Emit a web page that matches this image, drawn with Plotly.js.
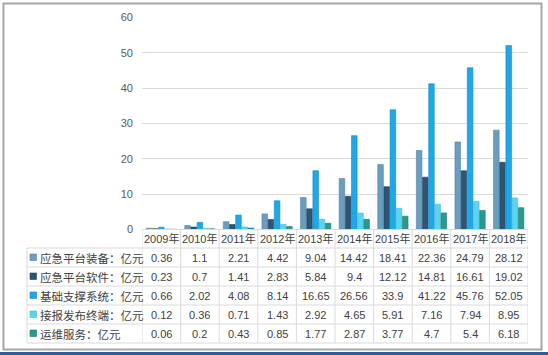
<!DOCTYPE html>
<html>
<head>
<meta charset="utf-8">
<script src="https://cdn.plot.ly/plotly-3.0.1.min.js"></script>
<style>
html,body{margin:0;padding:0;background:#fff;}
#chart{width:548px;height:355px;}
</style>
</head>
<body>
<div id="chart"></div>
<script>
const years = ["2009年","2010年","2011年","2012年","2013年","2014年","2015年","2016年","2017年","2018年"];
const seriesNames = ["应急平台装备：亿元","应急平台软件：亿元","基础支撑系统：亿元","接报发布终端：亿元","运维服务：亿元"];
const equipment = [0.36,1.1,2.21,4.42,9.04,14.42,18.41,22.36,24.79,28.12];
const software  = [0.23,0.7,1.41,2.83,5.84,9.4,12.12,14.81,16.61,19.02];
const infra     = [0.66,2.02,4.08,8.14,16.65,26.56,33.9,41.22,45.76,52.05];
const terminals = [0.12,0.36,0.71,1.43,2.92,4.65,5.91,7.16,7.94,8.95];
const maintenance = [0.06,0.2,0.43,0.85,1.77,2.87,3.77,4.7,5.4,6.18];
const seriesValues = [equipment, software, infra, terminals, maintenance];
const colors = ["#6a9ec0","#2d5575","#1ea8e8","#5cd4f0","#2a9a8c"];
const lineColors = ["#4f82a3","#1f3f5a","#1288c4","#3fb8d6","#1d7b70"];

const W = 548, H = 355;
const px = v => v / W;
const py = v => 1 - v / H;

const traces = seriesValues.map((vals, i) => ({
  type: "bar",
  x: years,
  y: vals,
  name: seriesNames[i],
  marker: {color: colors[i], line: {color: lineColors[i], width: 0.6}},
  hoverinfo: "skip"
}));

const gridCol = "#d9d9d9";
const textCol = "#404040";
const shapes = [];
const annotations = [];

// table geometry (pixels)
const tabLeft = 142, tabRight = 528, legLeft = 27;
const headTop = 229.5, headBot = 248;
const rowH = 19;
const rowTops = [248, 267, 286, 305, 324];
const tabBot = 343;

// horizontal lines
shapes.push({type:"line", xref:"paper", yref:"paper", x0:px(tabLeft), x1:px(tabRight), y0:py(headTop), y1:py(headTop), line:{color:gridCol,width:1}});
[headBot, 267, 286, 305, 324, tabBot].forEach(y => {
  shapes.push({type:"line", xref:"paper", yref:"paper", x0:px(legLeft), x1:px(tabRight), y0:py(y), y1:py(y), line:{color:gridCol,width:1}});
});
// vertical lines
shapes.push({type:"line", xref:"paper", yref:"paper", x0:px(legLeft), x1:px(legLeft), y0:py(headBot), y1:py(tabBot), line:{color:gridCol,width:1}});
for (let i = 0; i <= years.length; i++) {
  shapes.push({type:"line", xref:"x", yref:"paper", x0:i-0.5, x1:i-0.5, y0:py(headTop), y1:py(tabBot), line:{color:gridCol,width:1}});
}
// outer frame
shapes.push({type:"rect", xref:"paper", yref:"paper", x0:px(3.5), x1:px(541.5), y0:py(3.5), y1:py(349.5), line:{color:"#a6a6a6",width:2}});
// bottom blue band
shapes.push({type:"rect", xref:"paper", yref:"paper", x0:0, x1:1, y0:0, y1:py(352), fillcolor:"#2f5b9a", line:{width:0}});

const numFont = {family:"Liberation Sans, Arial, sans-serif", size:11, color:textCol};
const headFont = {family:"Liberation Sans, Noto Sans CJK SC, sans-serif", size:11, color:textCol};
const cjkFont = {family:"Noto Sans CJK SC, sans-serif", size:11.5, color:textCol};

// header
years.forEach((yr, i) => {
  annotations.push({xref:"x", yref:"paper", x:i, y:py((headTop+headBot)/2), text:yr, showarrow:false, font:headFont, xanchor:"center", yanchor:"middle"});
});
// rows
seriesValues.forEach((vals, r) => {
  const yc = rowTops[r] + rowH/2;
  shapes.push({type:"rect", xref:"paper", yref:"paper", x0:px(30), x1:px(36.5), y0:py(yc-3.5), y1:py(yc+3), fillcolor:colors[r], line:{color:lineColors[r],width:0.6}});
  annotations.push({xref:"paper", yref:"paper", x:px(37.5), y:py(yc), text:seriesNames[r], showarrow:false, font:cjkFont, xanchor:"left", yanchor:"middle"});
  vals.forEach((v, i) => {
    annotations.push({xref:"x", yref:"paper", x:i, y:py(yc), text:String(v), showarrow:false, font:numFont, xanchor:"center", yanchor:"middle"});
  });
});

const layout = {
  width: W, height: H,
  margin: {l:0, r:0, t:0, b:0},
  paper_bgcolor: "#ffffff",
  plot_bgcolor: "#ffffff",
  showlegend: false,
  barmode: "group",
  bargap: 0.2,
  bargroupgap: 0.1,
  xaxis: {
    domain: [px(tabLeft), px(tabRight)],
    type: "category",
    range: [-0.5, 9.5],
    showticklabels: false,
    showgrid: false,
    zeroline: false,
    showline: false,
    ticks: ""
  },
  yaxis: {
    domain: [py(229.5), py(17.5)],
    range: [0, 60],
    dtick: 10,
    tick0: 0,
    showgrid: true,
    gridcolor: gridCol,
    gridwidth: 1,
    zeroline: false,
    showline: false,
    ticks: "",
    ticklabelstandoff: 8,
    tickfont: {family:"Liberation Sans, Arial, sans-serif", size:11, color:"#595959"}
  },
  shapes: shapes,
  annotations: annotations
};

Plotly.newPlot("chart", traces, layout, {displayModeBar:false, staticPlot:true});
</script>
</body>
</html>
